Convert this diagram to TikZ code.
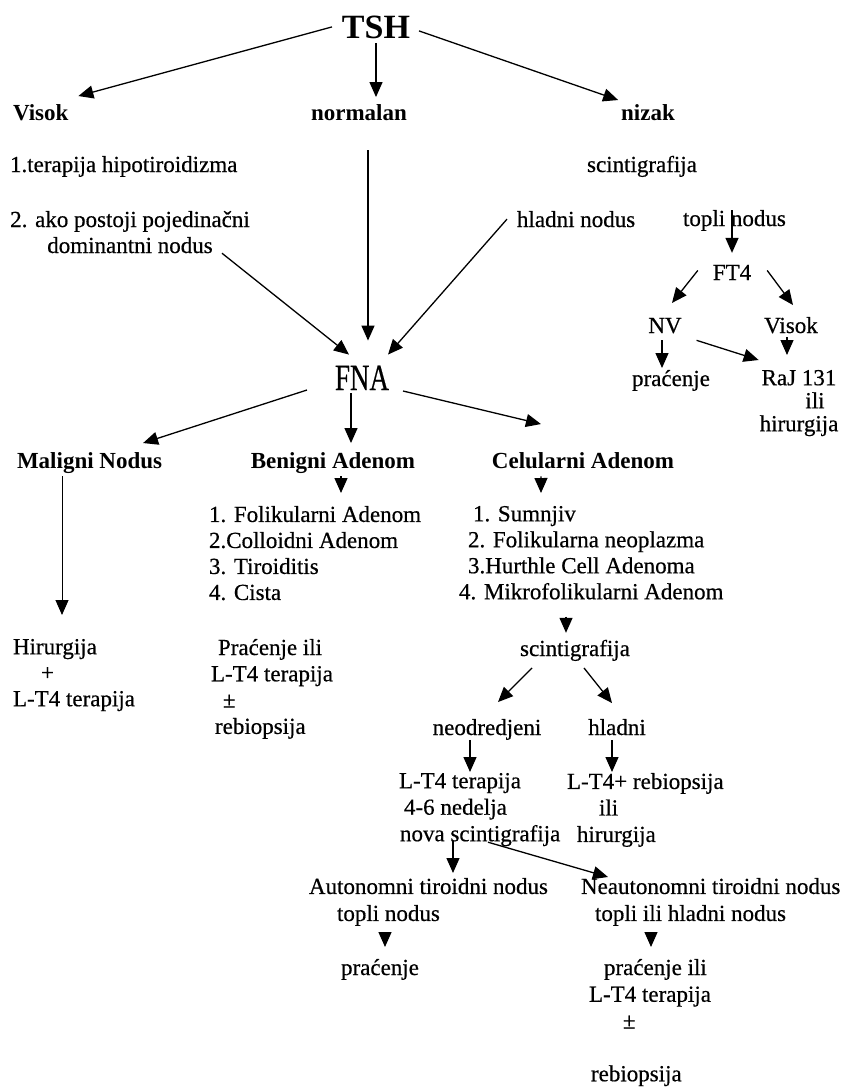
\documentclass[tikz,border=0pt]{standalone}
\usepackage{fontspec}
\setmainfont{Liberation Serif}[UprightFeatures={FakeBold=0.5}]
\usetikzlibrary{arrows.meta}
\tikzset{
  txt/.style={font=\fontsize{23}{26}\selectfont, inner sep=0pt, outer sep=0pt},
  hd/.style={txt, font=\fontsize{23}{26}\selectfont\bfseries},
  arr/.style={-{Triangle[length=15pt,width=13pt]}, line width=1.3pt},
}
\begin{document}
\begin{tikzpicture}[x=1pt,y=-1pt]
\fill[white] (0,0) rectangle (848,1087);
\useasboundingbox (0,0) rectangle (848,1087);

% top level
\node[hd, anchor=base, font=\fontsize{34}{36}\selectfont\bfseries] (tsh) at (376,38) {TSH};
\node[hd, anchor=base west] (visok) at (13,120) {Visok};
\node[hd, anchor=base] (normalan) at (359,120) {normalan};
\node[hd, anchor=base] (nizak) at (648,120) {nizak};

\node[txt, anchor=base west] (terapija) at (10,172) {1.terapija hipotiroidizma};
\node[txt, anchor=north, align=center] (ako) at (130,211) {2. ako postoji pojedinačni\\dominantni nodus};
\node[txt, anchor=base] (scint) at (642,172) {scintigrafija};
\node[txt, anchor=base west] (hladni) at (517,227) {hladni nodus};
\node[txt, anchor=base west] (topli) at (683,226) {topli nodus};

% nizak branch
\node[txt, anchor=base] (ft4) at (732,280) {FT4};
\node[txt, anchor=base] (nv) at (665,333) {NV};
\node[txt, anchor=base] (visokb) at (791,333) {Visok};
\node[txt, anchor=base] (pracA) at (671,386) {praćenje};
\node[txt, anchor=north, align=center, font=\fontsize{23}{23}\selectfont] (raj) at (799,370) {RaJ 131\\\hspace*{32pt}ili\\hirurgija};

% FNA
\node[txt, anchor=base] (fna) at (362,390) {\scalebox{0.73}[1]{\fontsize{37}{40}\selectfont FNA}};
\node[hd, anchor=base west] (maligni) at (17,468) {Maligni Nodus};
\node[hd, anchor=base] (benigni) at (333,468) {Benigni Adenom};
\node[hd, anchor=base] (celularni) at (583,468) {Celularni Adenom};

\node[txt, anchor=north west, align=left] (benlist) at (209,506) {1. Folikularni Adenom\\2.Colloidni Adenom\\3. Tiroiditis\\4. Cista};
\node[txt, anchor=north west, align=left] (cellist) at (459,506) {\hspace*{14pt}1. Sumnjiv\\\hspace*{9pt}2. Folikularna neoplazma\\\hspace*{9pt}3.Hurthle Cell Adenoma\\4. Mikrofolikularni Adenom};

\node[txt, anchor=north west, align=left] (hir) at (13,639) {Hirurgija\\\hspace*{28pt}+\\L-T4 terapija};
\node[txt, anchor=north west, align=left, font=\fontsize{23}{26.3}\selectfont] (benb) at (211,639) {\hspace*{7pt}Praćenje ili\\L-T4 terapija\\\hspace*{12pt}±\\\hspace*{4pt}rebiopsija};

% celularni branch
\node[txt, anchor=base] (scint2) at (575,656) {scintigrafija};
\node[txt, anchor=base] (neod) at (487,735) {neodredjeni};
\node[txt, anchor=base] (hladnib) at (617,735) {hladni};
\node[txt, anchor=north west, align=left, font=\fontsize{23}{26.5}\selectfont] (lt4) at (399,773) {L-T4 terapija\\\hspace*{5pt}4-6 nedelja\\\hspace*{1pt}nova scintigrafija};
\node[txt, anchor=north west, align=left, font=\fontsize{23}{26.5}\selectfont] (lt4r) at (567,773) {L-T4+ rebiopsija\\\hspace*{32pt}ili\\\hspace*{10pt}hirurgija};
\node[txt, anchor=north west, align=left, font=\fontsize{23}{27}\selectfont] (auto) at (309,878) {Autonomni tiroidni nodus\\\hspace*{28pt}topli nodus};
\node[txt, anchor=north west, align=left, font=\fontsize{23}{27}\selectfont] (neauto) at (581,878) {Neautonomni tiroidni nodus\\\hspace*{14pt}topli ili hladni nodus};
\node[txt, anchor=base] (pracB) at (380,975) {praćenje};
\node[txt, anchor=north west, align=left, font=\fontsize{23}{26.75}\selectfont] (pracC) at (589,959) {\hspace*{15pt}praćenje ili\\L-T4 terapija\\\hspace*{34pt}±\\[26pt]\hspace*{2pt}rebiopsija};

% connectors
\draw[arr] ([xshift=-10pt]tsh.west) -- ([xshift=10pt,yshift=8pt]visok.north east);
\draw[arr] ([yshift=-5pt]tsh.south) -- ([yshift=7pt]tsh.south |- normalan.north);
\draw[arr] ([xshift=9pt,yshift=-4pt]tsh.east) -- ([xshift=-3pt,yshift=4pt]nizak.north west);

\draw[arr] ([xshift=9pt,yshift=-30pt]normalan.south) -- ([xshift=6pt,yshift=25pt]fna.north);
\draw[arr] ([xshift=92pt]ako.south) -- ([xshift=14pt,yshift=11pt]fna.north west);
\draw[arr] ([xshift=-10pt]hladni.west) -- ([xshift=-1pt,yshift=11pt]fna.north east);

\draw[arr] ([xshift=49pt]topli.north west) -- ([yshift=12pt]ft4.north);
\draw[arr] ([xshift=-15pt,yshift=2pt]ft4.west) -- ([xshift=7pt,yshift=15pt]nv.north);
\draw[arr] ([xshift=16pt,yshift=2pt]ft4.east) -- ([xshift=2pt,yshift=12pt]visokb.north);
\draw[arr] ([xshift=-3pt,yshift=-7pt]nv.south) -- ([xshift=-9pt,yshift=2pt]pracA.north);
\draw[arr] ([xshift=15pt,yshift=-7pt]nv.south east) -- ([xshift=-1pt,yshift=10pt]raj.north west);
\draw[arr] ([xshift=-4pt,yshift=-4pt]visokb.south) -- ([xshift=-12pt,yshift=15pt]raj.north);

\draw[arr] ([xshift=-28pt]fna.south west) -- ([xshift=-19pt,yshift=9pt]maligni.north east);
\draw[arr] ([xshift=-11pt,yshift=-3pt]fna.south) -- ([xshift=18pt,yshift=9pt]benigni.north);
\draw[arr] ([xshift=14pt,yshift=-1pt]fna.south east) -- ([xshift=49pt,yshift=28pt]celularni.north west);

\draw[arr, line width=1pt] ([xshift=45pt,yshift=-3pt]maligni.south west) -- ([xshift=49pt,yshift=24pt]hir.north west);
\draw[arr] ([xshift=8pt,yshift=-3pt]benigni.south) -- ([xshift=132pt,yshift=13pt]benlist.north west);
\draw[arr] ([xshift=49pt,yshift=-8pt]celularni.south west) -- ([xshift=82pt,yshift=13pt]cellist.north west);
\draw[arr] ([xshift=107pt,yshift=-17pt]cellist.south west) -- ([xshift=-9pt,yshift=7pt]scint2.north);

\draw[arr] ([xshift=12pt,yshift=-7pt]scint2.south west) -- ([xshift=11pt,yshift=17pt]neod.north);
\draw[arr] ([xshift=9pt,yshift=-7pt]scint2.south) -- ([xshift=-5pt,yshift=16pt]hladnib.north);
\draw[arr] ([xshift=-17pt]neod.south) -- ([xshift=71pt,yshift=1pt]lt4.north west);
\draw[arr] ([xshift=-5pt,yshift=-5pt]hladnib.south) -- ([xshift=45pt,yshift=1pt]lt4r.north west);
\draw[arr] ([xshift=54pt,yshift=5pt]lt4.south west) -- ([xshift=144pt,yshift=5pt]auto.north west);
\draw[arr] ([xshift=89pt,yshift=4pt]lt4.south west) -- ([xshift=27pt,yshift=1pt]neauto.north west);
\draw[arr] ([xshift=76pt,yshift=-7pt]auto.south west) -- ([xshift=5pt,yshift=12pt]pracB.north);
\draw[arr] ([xshift=70pt,yshift=-7pt]neauto.south west) -- ([xshift=62pt,yshift=12pt]pracC.north west);
\end{tikzpicture}
\end{document}
